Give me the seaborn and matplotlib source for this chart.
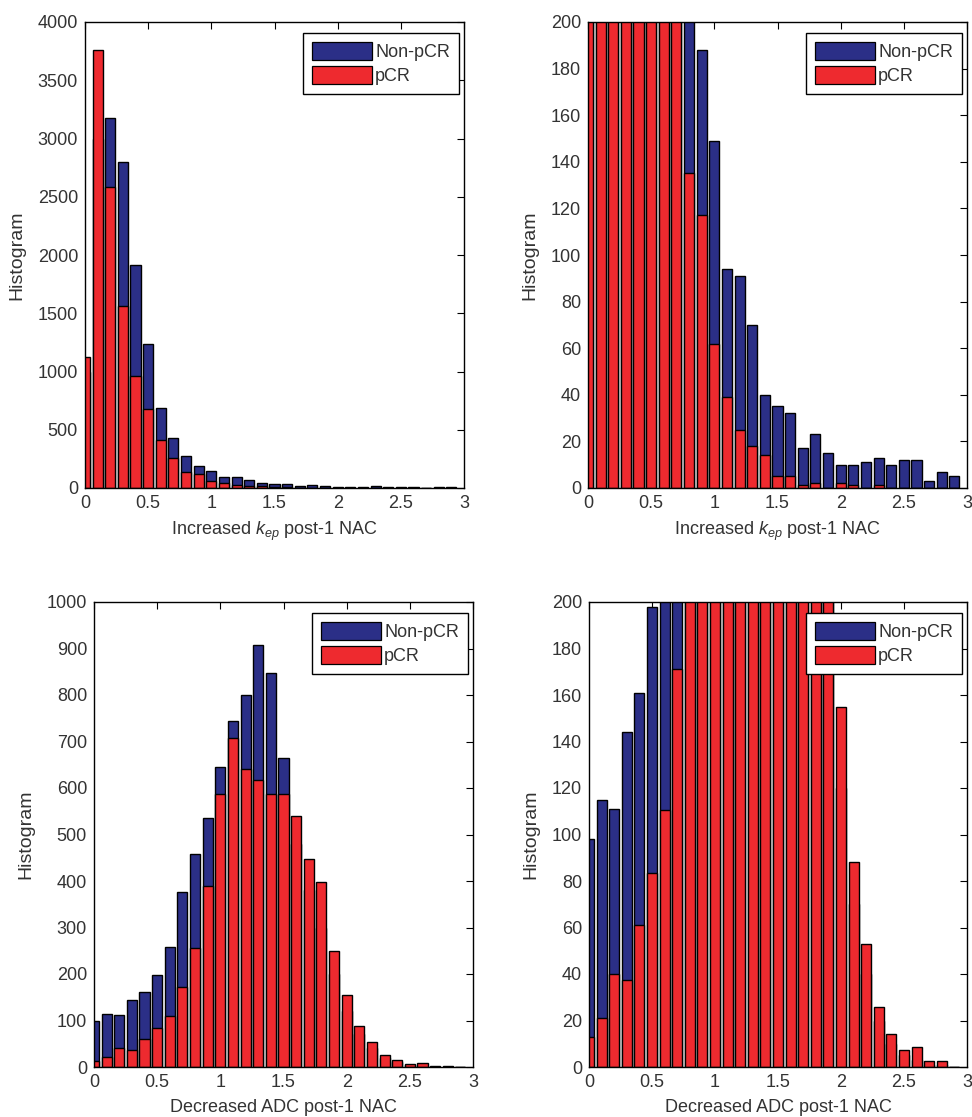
import numpy as np
import pandas as pd
import seaborn as sns
import matplotlib.pyplot as plt
from matplotlib.patches import Patch
from matplotlib.ticker import FormatStrFormatter

sns.set_theme(style="white")
plt.rcParams['font.family'] = ['Liberation Sans', 'DejaVu Sans']
plt.rcParams['mathtext.fontset'] = 'custom'
plt.rcParams['mathtext.it'] = 'Liberation Sans:italic'
plt.rcParams['mathtext.rm'] = 'Liberation Sans'

# bin centres (0.1 wide bins)
centros = [0.0, 0.1, 0.2, 0.3, 0.4, 0.5, 0.6, 0.7, 0.8, 0.9,
           1.0, 1.1, 1.2, 1.3, 1.4, 1.5, 1.6, 1.7, 1.8, 1.9,
           2.0, 2.1, 2.2, 2.3, 2.4, 2.5, 2.6, 2.7, 2.8, 2.9]

# increased kep post-1 NAC
kep_nonpcr = [1000, 3000, 3180, 2800, 1910, 1240, 690, 428, 274, 188,
              149, 94, 91, 70, 40, 35, 32, 17, 23, 15,
              10, 10, 11, 13, 10, 12, 12, 3, 7, 5]
kep_pcr = [1125, 3760, 2580, 1560, 960, 675, 416, 254, 135, 117,
           62, 39, 25, 18, 14, 5, 5, 1.5, 2, 0,
           2, 1.5, 0, 1.5, 0, 0, 0, 0, 0, 0]

# decreased ADC post-1 NAC
adc_nonpcr = [98, 115, 111, 144, 161, 198, 259, 376, 459, 536,
              646, 745, 800, 907, 847, 665, 480, 380, 300, 200,
              120, 70, 40, 20, 10, 5, 3, 1, 1, 0]
adc_pcr = [13, 21, 40, 37.5, 61, 83.5, 110.5, 171, 256, 389,
           587, 707, 640, 618, 587, 587, 539, 447, 398, 250,
           155, 88, 53, 26, 14, 7.5, 8.5, 2.5, 2.5, 0]

azul = '#2B2F87'
vermelho = '#EE2A2F'
cor_texto = '#333333'
fs = 13

df_kep = pd.DataFrame({'x': centros, 'non': kep_nonpcr, 'pcr': kep_pcr})
df_adc = pd.DataFrame({'x': centros, 'non': adc_nonpcr, 'pcr': adc_pcr})

fig = plt.figure(figsize=(9.72, 11.17), dpi=100)
W, H = 972, 1117

paineis = [
    # (left, top, right, bottom) px, dados, ylim, passo y, xlabel
    ((85, 22, 464, 488), df_kep, 4000, 500, r'Increased $k_{ep}$ post-1 NAC'),
    ((588, 22, 967, 488), df_kep, 200, 20, r'Increased $k_{ep}$ post-1 NAC'),
    ((94, 602, 473, 1067), df_adc, 1000, 100, 'Decreased ADC post-1 NAC'),
    ((589, 602, 967, 1067), df_adc, 200, 20, 'Decreased ADC post-1 NAC'),
]

for (l, t, r, b), df, ymax, ystep, xlab in paineis:
    ax = fig.add_axes([l / W, 1 - b / H, (r - l) / W, (b - t) / H])
    # non-pCR atras, pCR na frente
    for col, cor in [('non', azul), ('pcr', vermelho)]:
        sns.histplot(data=df, x='x', weights=col, binwidth=0.1,
                     binrange=(-0.05, 2.95), shrink=0.8, color=cor,
                     alpha=1, edgecolor='black', linewidth=1.0, ax=ax)
    ax.set_xlim(0, 3)
    ax.set_ylim(0, ymax)
    ax.set_xticks([0, 0.5, 1, 1.5, 2, 2.5, 3])
    ax.set_yticks(np.arange(0, ymax + 1, ystep))
    ax.xaxis.set_major_formatter(FormatStrFormatter('%g'))
    ax.tick_params(direction='in', top=True, right=True, length=5, width=0.8,
                   labelsize=fs, labelcolor=cor_texto, color='black', pad=5)
    for s in ax.spines.values():
        s.set_color('black')
        s.set_linewidth(1.0)
    ax.set_xlabel(xlab, fontsize=fs, color=cor_texto, labelpad=6)
    ax.set_ylabel('Histogram', fontsize=14, color=cor_texto, labelpad=9)
    handles = [Patch(facecolor=azul, edgecolor='black', linewidth=0.9),
               Patch(facecolor=vermelho, edgecolor='black', linewidth=0.9)]
    leg = ax.legend(handles, ['Non-pCR', 'pCR'], loc='upper right',
                    bbox_to_anchor=(0.987, 0.976), borderaxespad=0,
                    fontsize=fs, handlelength=3.3, handleheight=1.1,
                    handletextpad=0.2, labelspacing=0.3, borderpad=0.5,
                    fancybox=False, framealpha=1, edgecolor='black')
    leg.get_frame().set_linewidth(1.0)
    for tx in leg.get_texts():
        tx.set_color(cor_texto)

plt.savefig('out.png', dpi=100)
